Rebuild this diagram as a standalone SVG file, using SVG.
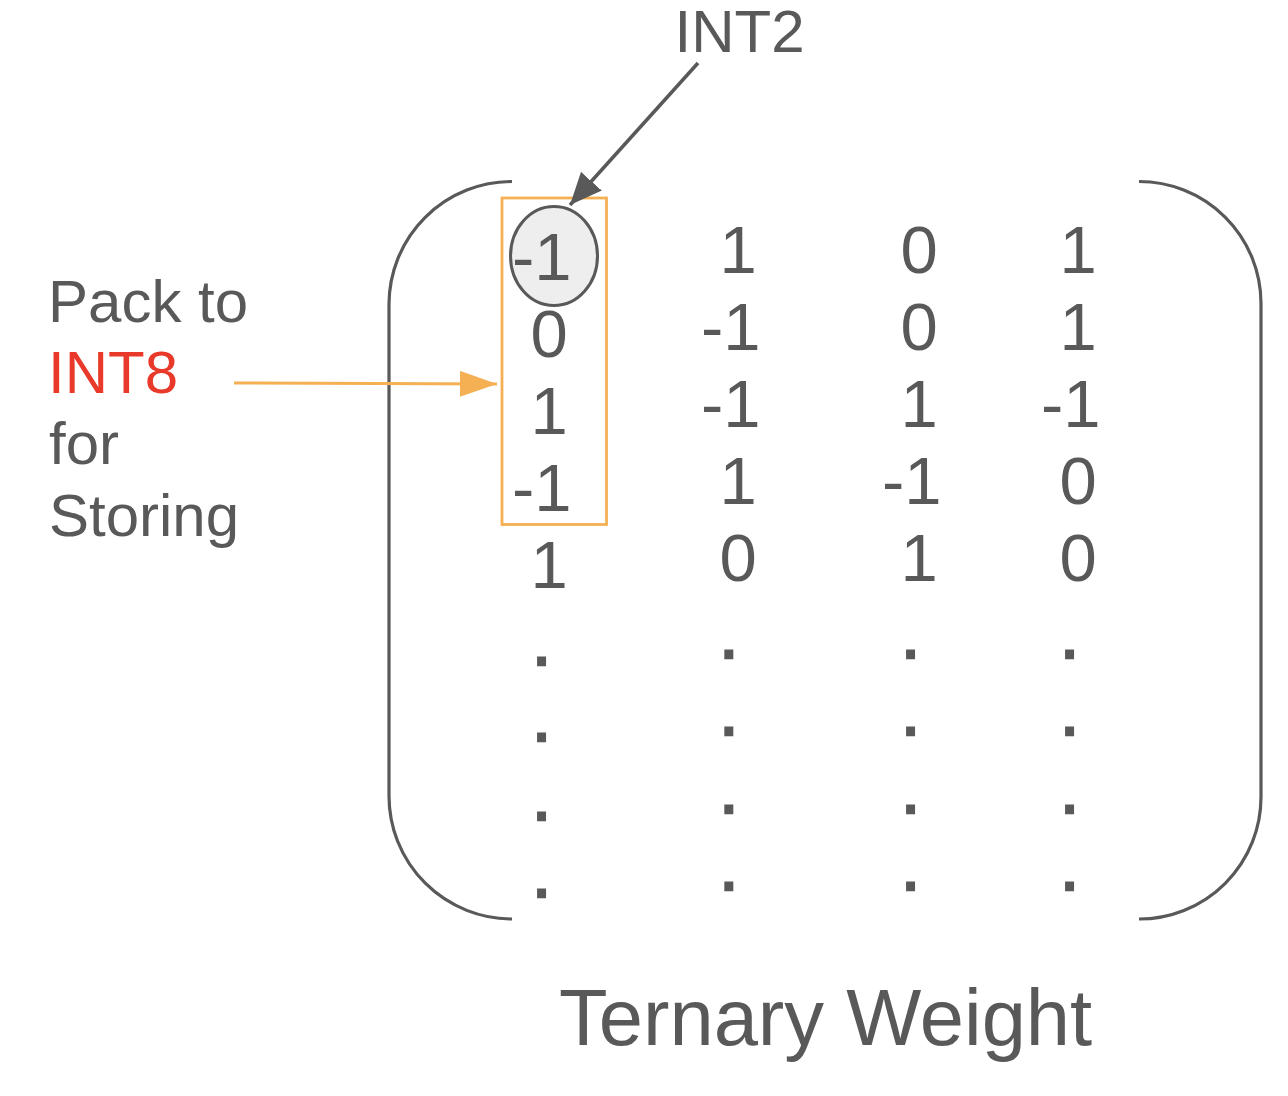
<svg xmlns="http://www.w3.org/2000/svg" width="1288" height="1096" viewBox="0 0 1288 1096">
<style>
.t{font-family:"Liberation Sans",Arial,sans-serif;fill:#595959}
.num{font-size:67px}
.dot{font-size:67px;stroke:#595959;stroke-width:2.6;stroke-linejoin:miter}
.lbl{font-size:60px}
.red{fill:#e8392a}
.br{fill:none;stroke:#595959;stroke-width:3.2}
</style>
<defs>
<marker id="ahDark" markerUnits="userSpaceOnUse" viewBox="0 0 32 28" refX="32" refY="14" markerWidth="32" markerHeight="28" orient="auto">
<polygon points="0,0 32,14 0,28" fill="#595959"/>
</marker>
<marker id="ahOrange" markerUnits="userSpaceOnUse" viewBox="0 0 37 26" refX="37" refY="13" markerWidth="37" markerHeight="26" orient="auto">
<polygon points="0,0 37,13 0,26" fill="#f4b052"/>
</marker>
</defs>
<rect width="1288" height="1096" fill="#ffffff"/>

<g id="matrix">
<path class="br" d="M512,181.5 A123,123 0 0 0 389,304 L389,796 A123,123 0 0 0 512,919"/>
<path class="br" d="M1139,181.5 A122,122 0 0 1 1261,303 L1261,797 A122,122 0 0 1 1139,919"/>
</g>

<g id="int2-cell">
<ellipse cx="554" cy="256" rx="43.5" ry="49.5" fill="#eeeeee" stroke="#595959" stroke-width="3"/>
</g>

<g id="pack-box">
<rect x="502" y="198" width="104.5" height="326.5" fill="none" stroke="#f4b052" stroke-width="2.8"/>
</g>

<g id="values" class="t num">
<text x="512" y="280">-1</text>
<text x="530.6" y="357">0</text>
<text x="530.6" y="434">1</text>
<text x="512" y="511">-1</text>
<text x="530.6" y="588">1</text>

<text x="719.6" y="273">1</text>
<text x="701" y="350">-1</text>
<text x="701" y="427">-1</text>
<text x="719.6" y="504">1</text>
<text x="719.6" y="581">0</text>

<text x="900.6" y="273">0</text>
<text x="900.6" y="350">0</text>
<text x="900.6" y="427">1</text>
<text x="882" y="504">-1</text>
<text x="900.6" y="581">1</text>

<text x="1059.6" y="273">1</text>
<text x="1059.6" y="350">1</text>
<text x="1041" y="427">-1</text>
<text x="1059.6" y="504">0</text>
<text x="1059.6" y="581">0</text>
</g>

<g id="ellipsis" class="t dot">
<text x="532.2" y="664.7">.</text>
<text x="532.2" y="740.7">.</text>
<text x="532.2" y="819.7">.</text>
<text x="532.2" y="896.7">.</text>
<text x="719.5" y="657.7">.</text>
<text x="719.5" y="734.7">.</text>
<text x="719.5" y="812.7">.</text>
<text x="719.5" y="889.7">.</text>
<text x="901.2" y="657.7">.</text>
<text x="901.2" y="734.7">.</text>
<text x="901.2" y="812.7">.</text>
<text x="901.2" y="889.7">.</text>
<text x="1060.2" y="657.7">.</text>
<text x="1060.2" y="734.7">.</text>
<text x="1060.2" y="812.7">.</text>
<text x="1060.2" y="889.7">.</text>
</g>

<g id="int2-label">
<text class="t lbl" x="674.5" y="52">INT2</text>
</g>

<g id="pack-label" class="t lbl">
<text x="48" y="322">Pack to</text>
<text x="48" y="393" class="red">INT8</text>
<text x="49" y="464">for</text>
<text x="49" y="536">Storing</text>
</g>

<g id="title">
<text class="t" style="font-size:79.5px" x="559" y="1045">Ternary Weight</text>
</g>

<g id="connectors">
<line x1="698" y1="63" x2="570" y2="205" stroke="#595959" stroke-width="3.5" marker-end="url(#ahDark)"/>
<line x1="234" y1="383" x2="497" y2="384" stroke="#f4b052" stroke-width="3" marker-end="url(#ahOrange)"/>
</g>
</svg>
